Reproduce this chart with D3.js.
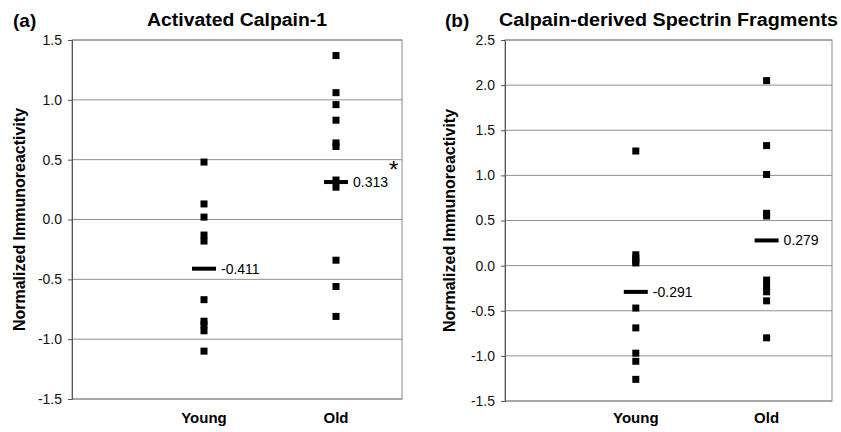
<!DOCTYPE html>
<html>
<head>
<meta charset="utf-8">
<script src="https://cdn.jsdelivr.net/npm/d3@7"></script>
<style>
  body { margin: 0; background: #fff; }
  svg { display: block; font-family: "Liberation Sans", Arial, sans-serif; }
</style>
</head>
<body>
<svg id="chart" width="841" height="432"></svg>
<script>
// group names
var groups = ["Young", "Old"];

// panel (a) Activated Calpain-1
var youngA = [0.48, 0.13, 0.02, -0.13, -0.18, -0.67, -0.85, -0.88, -0.93, -1.10];
var oldA = [1.37, 1.06, 0.96, 0.83, 0.64, 0.61, 0.33, 0.27, -0.34, -0.56, -0.81];
var meanA = [-0.411, 0.313];
var ticksA = [-1.5, -1.0, -0.5, 0.0, 0.5, 1.0, 1.5];

// panel (b) Calpain-derived Spectrin Fragments
var youngB = [1.27, 0.12, 0.08, 0.05, 0.03, -0.47, -0.69, -0.97, -1.06, -1.26];
var oldB = [2.05, 1.33, 1.01, 0.58, 0.55, -0.16, -0.23, -0.29, -0.39, -0.80];
var meanB = [-0.291, 0.279];
var ticksB = [-1.5, -1.0, -0.5, 0.0, 0.5, 1.0, 1.5, 2.0, 2.5];

var svg = d3.select("#chart");

function drawPanel(opt) {
    var g = svg.append("g");

    // x: categories sit at 1 and 2 on a 0..2.5 axis (excel style)
    var x = d3.scaleLinear().domain([0, 2.5]).range([opt.left, opt.right]);
    var y = d3.scaleLinear().domain(d3.extent(opt.ticks)).range([opt.bottom, opt.top]);

    // gridlines
    g.selectAll(".grid")
        .data(opt.ticks)
        .enter()
        .append("line")
        .attr("x1", opt.left)
        .attr("x2", opt.right)
        .attr("y1", d => y(d))
        .attr("y2", d => y(d))
        .style("stroke", "#8f8f8f")
        .style("stroke-width", 1);

    // frame
    g.append("rect")
        .attr("x", opt.left)
        .attr("y", opt.top)
        .attr("width", opt.right - opt.left)
        .attr("height", opt.bottom - opt.top)
        .style("fill", "none")
        .style("stroke", "#888")
        .style("stroke-width", 1);

    // y axis
    var yAxis = d3.axisLeft(y)
        .tickValues(opt.ticks)
        .tickSize(4)
        .tickPadding(6)
        .tickFormat(d => d.toFixed(1));
    var ax = g.append("g")
        .attr("transform", "translate(" + opt.left + ",0)")
        .call(yAxis);
    ax.selectAll("text").style("font-size", "14px").style("fill", "#111");
    ax.selectAll("line, path").style("stroke", "#555");

    // y title
    g.append("text")
        .attr("transform", "translate(" + opt.ytitleX + "," + ((opt.top + opt.bottom) / 2) + ") rotate(-90)")
        .attr("text-anchor", "middle")
        .style("font-size", "16px")
        .style("font-weight", "bold")
        .text("Normalized Immunoreactivity");

    // panel letter + title
    g.append("text")
        .attr("x", opt.letterX)
        .attr("y", 27)
        .style("font-size", "19px")
        .style("font-weight", "bold")
        .text(opt.letter);
    g.append("text")
        .attr("x", (opt.left + opt.right) / 2)
        .attr("y", 26)
        .attr("text-anchor", "middle")
        .attr("textLength", opt.titleLen)
        .attr("lengthAdjust", "spacingAndGlyphs")
        .style("font-size", "17.5px")
        .style("font-weight", "bold")
        .text(opt.title);

    // category labels
    g.selectAll(".cat")
        .data(groups)
        .enter()
        .append("text")
        .attr("x", (d, i) => x(i + 1))
        .attr("y", 423)
        .attr("text-anchor", "middle")
        .style("font-size", "15px")
        .style("font-weight", "bold")
        .text(d => d);

    // points
    var sq = 7;
    [opt.young, opt.old].forEach(function(vals, i) {
        g.selectAll(".pt" + i)
            .data(vals)
            .enter()
            .append("rect")
            .attr("x", x(i + 1) - sq / 2)
            .attr("y", d => y(d) - sq / 2)
            .attr("width", sq)
            .attr("height", sq)
            .style("fill", "#000");
    });

    // mean bars + labels
    var barW = 24;
    g.selectAll(".mean")
        .data(opt.means)
        .enter()
        .append("rect")
        .attr("x", (d, i) => x(i + 1) - barW / 2)
        .attr("y", d => y(d) - 2)
        .attr("width", barW)
        .attr("height", 4)
        .style("fill", "#000");
    g.selectAll(".meanlab")
        .data(opt.means)
        .enter()
        .append("text")
        .attr("x", (d, i) => x(i + 1) + barW / 2 + 5)
        .attr("y", d => y(d))
        .attr("dy", "0.35em")
        .style("font-size", "14px")
        .text(d => d.toFixed(3));

    return { x: x, y: y };
}

var pa = drawPanel({
    left: 72, right: 402, top: 40, bottom: 399,
    ticks: ticksA, young: youngA, old: oldA, means: meanA,
    letter: "(a)", letterX: 13, title: "Activated Calpain-1", titleLen: 180,
    ytitleX: 25
});

// significance mark next to old mean
svg.append("text")
    .attr("x", pa.x(2) + 12 + 5 + 36)
    .attr("y", pa.y(meanA[1]) - 4)
    .style("font-size", "24px")
    .text("*");

drawPanel({
    left: 505, right: 832, top: 40, bottom: 401,
    ticks: ticksB, young: youngB, old: oldB, means: meanB,
    letter: "(b)", letterX: 445, title: "Calpain-derived Spectrin Fragments", titleLen: 339,
    ytitleX: 455
});
</script>
</body>
</html>
